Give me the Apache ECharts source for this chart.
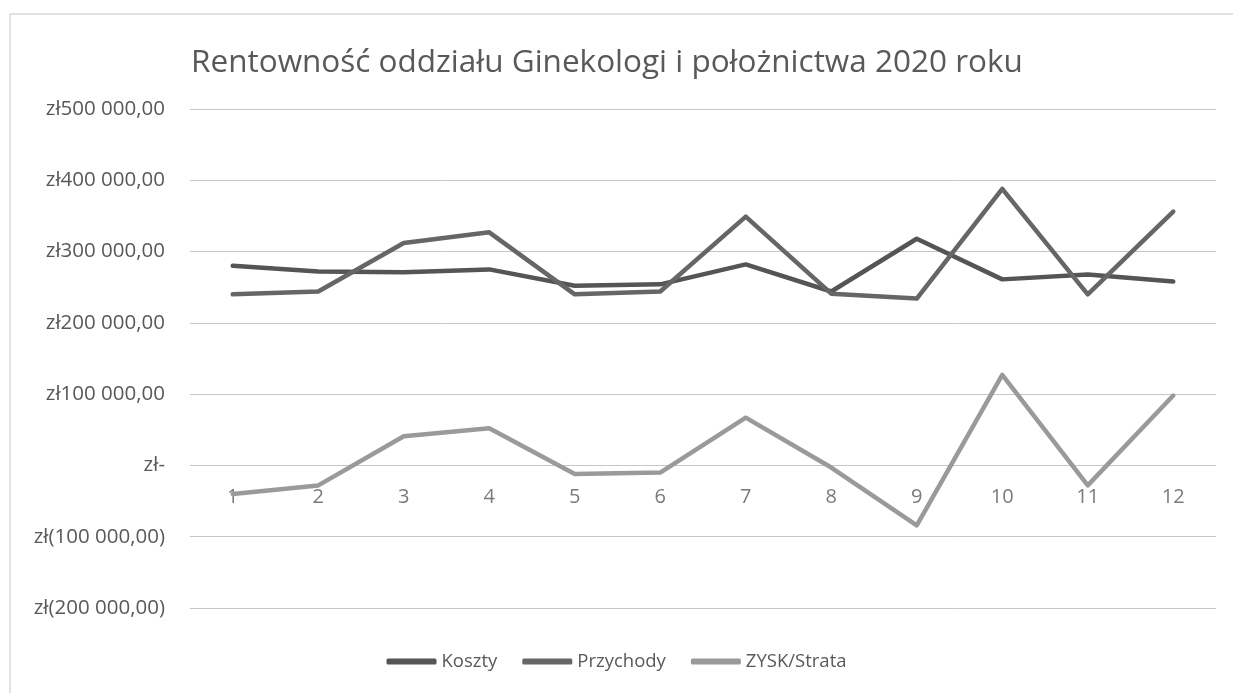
<!DOCTYPE html>
<html>
<head>
<meta charset="utf-8">
<title>Rentowność oddziału Ginekologi i położnictwa 2020 roku</title>
<script src="https://cdn.jsdelivr.net/npm/echarts@6/dist/echarts.min.js"></script>
<style>
  html, body { margin: 0; padding: 0; background: #ffffff; }
  #chart { width: 1233px; height: 693px; }
</style>
</head>
<body>
<div id="chart"></div>
<script>
// Months of 2020
const months = ['1', '2', '3', '4', '5', '6', '7', '8', '9', '10', '11', '12'];

// Monthly values in PLN
const koszty = [280000, 272000, 271000, 275000, 252000, 254000, 282000, 244000, 318000, 261000, 268000, 258000];
const przychody = [240000, 244000, 312000, 327000, 240000, 244000, 349000, 241000, 234000, 388000, 240000, 356000];
const zysk = [-40000, -28000, 41000, 52000, -12000, -10000, 67000, -3000, -84000, 127000, -28000, 98000];

const seriesNames = ['Koszty', 'Przychody', 'ZYSK/Strata'];

// Polish accounting currency format: zł500 000,00 / zł- / zł(100 000,00)
function formatZl(v) {
  if (v === 0) return 'zł-';
  const abs = Math.abs(v).toString().replace(/\B(?=(\d{3})+(?!\d))/g, ' ') + ',00';
  return v < 0 ? 'zł(' + abs + ')' : 'zł' + abs;
}

const chart = echarts.init(document.getElementById('chart'), null, { renderer: 'canvas' });

const fontFamily = '"Open Sans", "Noto Sans", "Liberation Sans", sans-serif';
const textColor = '#595959';

chart.setOption({
  backgroundColor: '#ffffff',
  animation: false,
  textStyle: { fontFamily: fontFamily },
  graphic: [{
    type: 'rect',
    silent: true,
    z: -10,
    shape: { x: 10, y: 14, width: 1400, height: 900 },
    style: { fill: 'none', stroke: '#c4c4c4', lineWidth: 1 }
  }],
  title: {
    text: 'Rentowność oddziału Ginekologi i położnictwa 2020 roku',
    left: 186,
    top: 42,
    textStyle: { color: textColor, fontSize: 31.5, fontWeight: 'normal', fontFamily: fontFamily }
  },
  legend: {
    data: seriesNames,
    bottom: 17,
    left: 'center',
    itemWidth: 50,
    itemHeight: 6,
    itemGap: 25,
    icon: 'roundRect',
    textStyle: { color: textColor, fontSize: 18.5 }
  },
  grid: { left: 190, right: 17, top: 109, bottom: 85, containLabel: false },
  xAxis: {
    type: 'category',
    data: months,
    boundaryGap: true,
    axisLine: { show: false },
    axisTick: { show: false },
    axisLabel: { show: false }
  },
  yAxis: {
    type: 'value',
    min: -200000,
    max: 500000,
    interval: 100000,
    axisLine: { show: false },
    axisTick: { show: false },
    axisLabel: { color: textColor, fontSize: 20.5, margin: 25, formatter: formatZl },
    splitLine: { lineStyle: { color: '#c6c6c6', width: 1 } }
  },
  series: [
    {
      name: seriesNames[0],
      type: 'line',
      data: koszty,
      symbol: 'none',
      lineStyle: { width: 4.5, color: '#555555', cap: 'round', join: 'round' },
      itemStyle: { color: '#555555' },
      z: 3
    },
    {
      name: seriesNames[1],
      type: 'line',
      data: przychody,
      symbol: 'none',
      lineStyle: { width: 4.5, color: '#666666', cap: 'round', join: 'round' },
      itemStyle: { color: '#666666' },
      z: 4
    },
    {
      name: seriesNames[2],
      type: 'line',
      data: zysk,
      symbol: 'none',
      lineStyle: { width: 4.5, color: '#9a9a9a', cap: 'round', join: 'round' },
      itemStyle: { color: '#9a9a9a' },
      z: 5
    },
    {
      // month labels hang just below the zero line, as in a category axis crossing at zero
      name: 'monthLabels',
      type: 'scatter',
      silent: true,
      symbolSize: 0,
      data: months.map(m => [m, 0]),
      label: {
        show: true,
        position: 'bottom',
        distance: 22,
        color: textColor,
        fontSize: 20,
        formatter: p => p.value[0]
      },
      z: 2
    }
  ]
});
</script>
</body>
</html>
